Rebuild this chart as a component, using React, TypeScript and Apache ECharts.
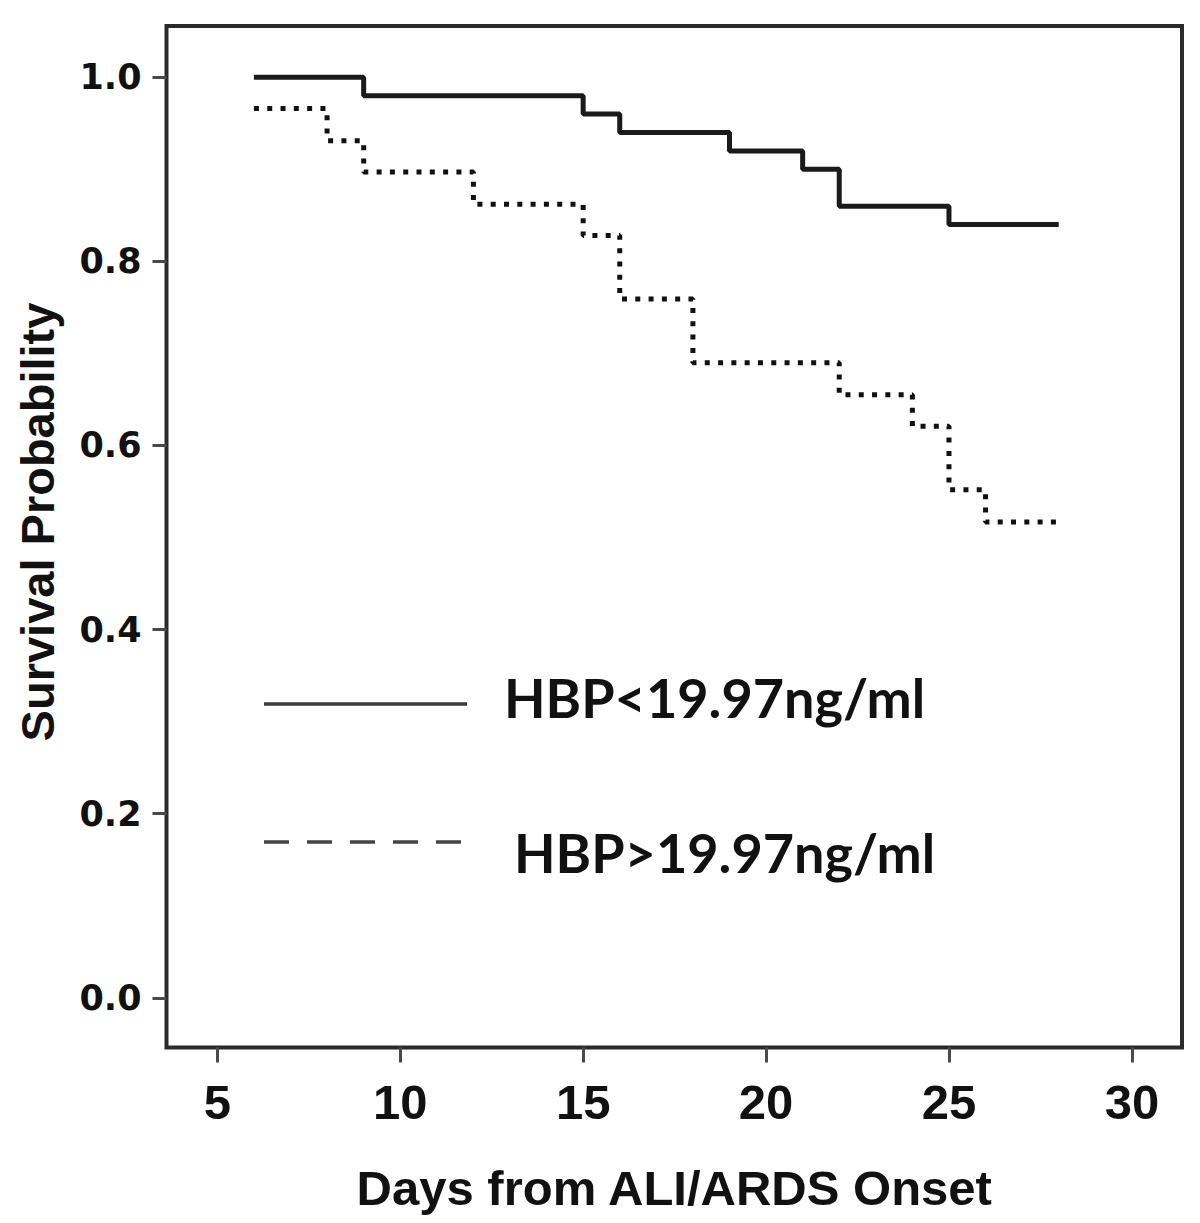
import React, { useEffect, useRef } from "react";
import * as echarts from "echarts";

// Kaplan-Meier survival data (time in days, survival probability)
const lowTimes = [6, 9, 15, 16, 19, 21, 22, 25, 28];
const lowSurvival = [1.0, 0.98, 0.96, 0.94, 0.92, 0.9, 0.86, 0.84, 0.84];
const highTimes = [6, 8, 9, 12, 15, 16, 18, 22, 24, 25, 26, 28];
const highSurvival = [0.966, 0.931, 0.897, 0.862, 0.828, 0.759, 0.69, 0.655, 0.621, 0.552, 0.517, 0.517];

const xTicks = [5, 10, 15, 20, 25, 30];
const yTicks = [0, 0.2, 0.4, 0.6, 0.8, 1.0];
const seriesNames = ["HBP<19.97ng/ml", "HBP>19.97ng/ml"];
const xTitle = "Days from ALI/ARDS Onset";
const yTitle = "Survival Probability";

const X_MIN = 3.61;
const X_MAX = 31.37;
const Y_MIN = -0.054;
const Y_MAX = 1.0557;

export default function App() {
  const ref = useRef<HTMLDivElement>(null);

  useEffect(() => {
    if (!ref.current) return;
    const chart = echarts.init(ref.current, undefined, { renderer: "svg" });
    const axisFont = "Liberation Sans, Arial, sans-serif";
    const legendFont = "Lato, Carlito, Calibri, sans-serif";

    chart.setOption({
      animation: false,
      backgroundColor: "#ffffff",
      grid: {
        left: 166.5,
        top: 26,
        width: 1015.5,
        height: 1021.5,
        show: true,
        borderColor: "#2a2a2a",
        borderWidth: 4,
        backgroundColor: "transparent",
      },
      xAxis: {
        type: "value",
        position: "bottom",
        min: X_MIN,
        max: X_MAX,
        axisLine: { show: false, onZero: false },
        splitLine: { show: false },
        axisTick: {
          show: true,
          inside: false,
          customValues: xTicks,
          length: 15,
          lineStyle: { color: "#4a4a4a", width: 3 },
        },
        axisLabel: {
          customValues: xTicks,
          formatter: (v: number) => String(v),
          fontFamily: axisFont,
          fontWeight: "bold",
          fontSize: 49,
          color: "#111",
          margin: 30,
        },
        name: xTitle,
        nameLocation: "middle",
        nameGap: 116,
        nameTextStyle: {
          fontFamily: axisFont,
          fontWeight: "bold",
          fontSize: 49,
          color: "#111",
        },
      },
      yAxis: {
        type: "value",
        position: "left",
        min: Y_MIN,
        max: Y_MAX,
        axisLine: { show: false, onZero: false },
        splitLine: { show: false },
        axisTick: {
          show: true,
          inside: false,
          customValues: yTicks,
          length: 14,
          lineStyle: { color: "#4a4a4a", width: 3 },
        },
        axisLabel: {
          customValues: yTicks,
          formatter: (v: number) => v.toFixed(1),
          fontFamily: "DejaVu Sans, Verdana, sans-serif",
          fontWeight: "bold",
          fontSize: 35,
          color: "#111",
          margin: 25,
        },
      },
      series: [
        {
          type: "line",
          name: seriesNames[0],
          data: lowTimes.map((t, i) => [t, lowSurvival[i]]),
          step: "end",
          symbol: "none",
          showSymbol: false,
          silent: true,
          lineStyle: { color: "#1a1a1a", width: 5, type: "solid" },
        },
        {
          type: "line",
          name: seriesNames[1],
          data: highTimes.map((t, i) => [t, highSurvival[i]]),
          step: "end",
          symbol: "none",
          showSymbol: false,
          silent: true,
          lineStyle: { color: "#111", width: 5, type: [5, 8.3] },
        },
      ],
      graphic: [
        {
          type: "text",
          x: 37,
          y: 522,
          rotation: Math.PI / 2,
          style: {
            text: yTitle,
            fontFamily: axisFont,
            fontWeight: "bold",
            fontSize: 47,
            fill: "#111",
            textAlign: "center",
            textVerticalAlign: "middle",
          },
        },
        {
          type: "line",
          shape: { x1: 264, y1: 704, x2: 467, y2: 704 },
          style: { stroke: "#3c3c3c", lineWidth: 3.5 },
        },
        {
          type: "line",
          shape: { x1: 264, y1: 842, x2: 465, y2: 842 },
          style: { stroke: "#444", lineWidth: 3.5, lineDash: [25, 18] },
        },
        {
          type: "text",
          x: 504,
          y: 697,
          style: {
            text: seriesNames[0],
            fontFamily: legendFont,
            fontWeight: "bold",
            fontSize: 54,
            fill: "#111",
            textAlign: "left",
            textVerticalAlign: "middle",
          },
        },
        {
          type: "text",
          x: 514,
          y: 852,
          style: {
            text: seriesNames[1],
            fontFamily: legendFont,
            fontWeight: "bold",
            fontSize: 54,
            fill: "#111",
            textAlign: "left",
            textVerticalAlign: "middle",
          },
        },
      ],
    });

    return () => chart.dispose();
  }, []);

  return (
    <div
      ref={ref}
      style={{
        position: "absolute",
        left: 0,
        top: 0,
        width: 1200,
        height: 1223,
        background: "#fff",
      }}
    />
  );
}
